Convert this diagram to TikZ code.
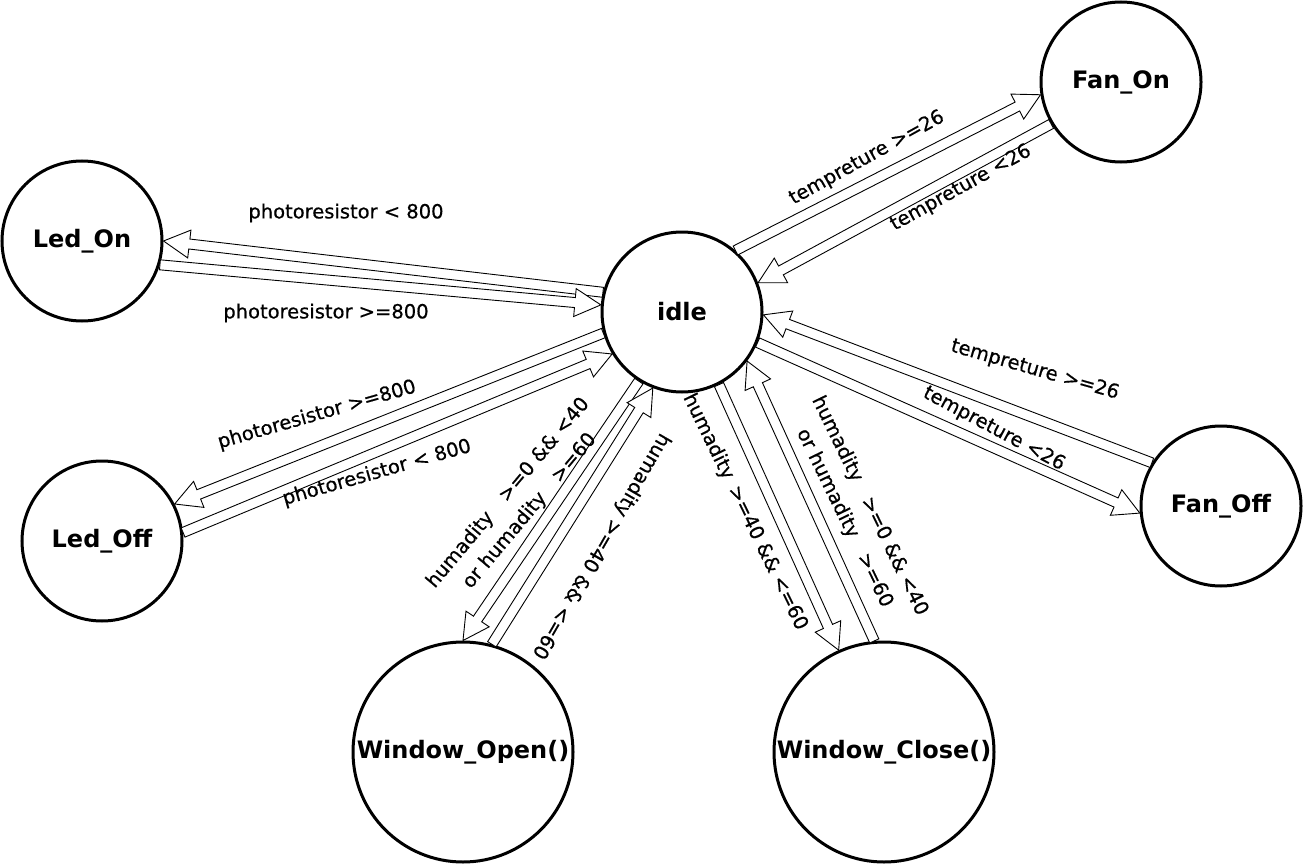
\documentclass[tikz,border=0pt]{standalone}
\usepackage{fontspec}
\setmainfont{DejaVu Sans}
\newfontfamily\lblfont[FakeBold=0.6]{DejaVu Sans}
\usetikzlibrary{calc}
\newcommand\hollowarrow[2]{%
  \coordinate (hb) at ($(#2)!26pt!(#1)$);
  \draw[harrow] ($(#1)!5pt!90:(#2)$) -- ($(hb)!5pt!90:(#2)$) -- ($(hb)!14pt!90:(#2)$) -- (#2)
     -- ($(hb)!14pt!-90:(#2)$) -- ($(hb)!5pt!-90:(#2)$) -- ($(#1)!5pt!-90:(#2)$) -- cycle;}
\begin{document}
\begin{tikzpicture}[x=1pt,y=-1pt,
  state/.style={circle,draw,line width=3pt,minimum size=160pt,inner sep=0pt,
    font=\fontsize{24}{28}\selectfont\bfseries},
  bigstate/.style={state,minimum size=220pt},
  harrow/.style={draw,line width=0.9pt,fill=white,line join=miter},
  lbl/.style={font=\lblfont\fontsize{19.5}{28}\selectfont,inner sep=0pt,align=center},
]
\useasboundingbox[fill=white] (0,0) rectangle (1304,864);

\node[state] (idle) at (682,312) {idle};
\node[state] (ledon) at (82,241) {Led\_On};
\node[state] (ledoff) at (102,541) {Led\_Off};
\node[state] (fanon) at (1121,82) {Fan\_On};
\node[state] (fanoff) at (1221,506) {Fan\_Off};
\node[bigstate] (wopen) at (463,752) {Window\_Open()};
\node[bigstate] (wclose) at (884,752) {Window\_Close()};

% Led_On
\hollowarrow{idle.166}{ledon.0}
\hollowarrow{ledon.-17}{idle.175}
% Led_Off
\hollowarrow{idle.195}{ledoff.27}
\hollowarrow{ledoff.6}{idle.211}
% Window_Open
\hollowarrow{idle.238}{wopen.90}
\hollowarrow{wopen.75}{idle.249}
% Window_Close
\hollowarrow{idle.297}{wclose.114}
\hollowarrow{wclose.95}{idle.323}
% Fan_On
\hollowarrow{idle.49}{fanon.189}
\hollowarrow{fanon.211}{idle.21}
% Fan_Off
\hollowarrow{fanoff.148}{idle.358}
\hollowarrow{idle.338}{fanoff.185}

% labels
\node[lbl] (l1) at (346,213) {photoresistor < 800};
\node[lbl] (l2) at (326,313) {photoresistor >=800};
\node[lbl,rotate=16] (l3) at (317,415) {photoresistor >=800};
\node[lbl,rotate=16] (l4) at (377,473) {photoresistor < 800};
\node[lbl,rotate=50] (l5) at (519,502) {humadity\quad >=0 \&\& <40\\or humadity\quad >=60};
\node[lbl,rotate=-120] (l6) at (601,546) {humadity >=40 \&\& <=60};
\node[lbl,rotate=-64] (l7) at (745,512) {humadity\enspace >=40 \&\& <=60};
\node[lbl,rotate=-64] (l8) at (857,512) {humadity\quad >=0 \&\& <40\\or humadity\quad >=60};
\node[lbl,rotate=29] (l9) at (867,158) {tempreture >=26};
\node[lbl,rotate=29] (l10) at (961,188) {tempreture <26};
\node[lbl,rotate=-16] (l11) at (1035,370) {tempreture >=26};
\node[lbl,rotate=-28] (l12) at (994,429) {tempreture <26};
\end{tikzpicture}
\end{document}
